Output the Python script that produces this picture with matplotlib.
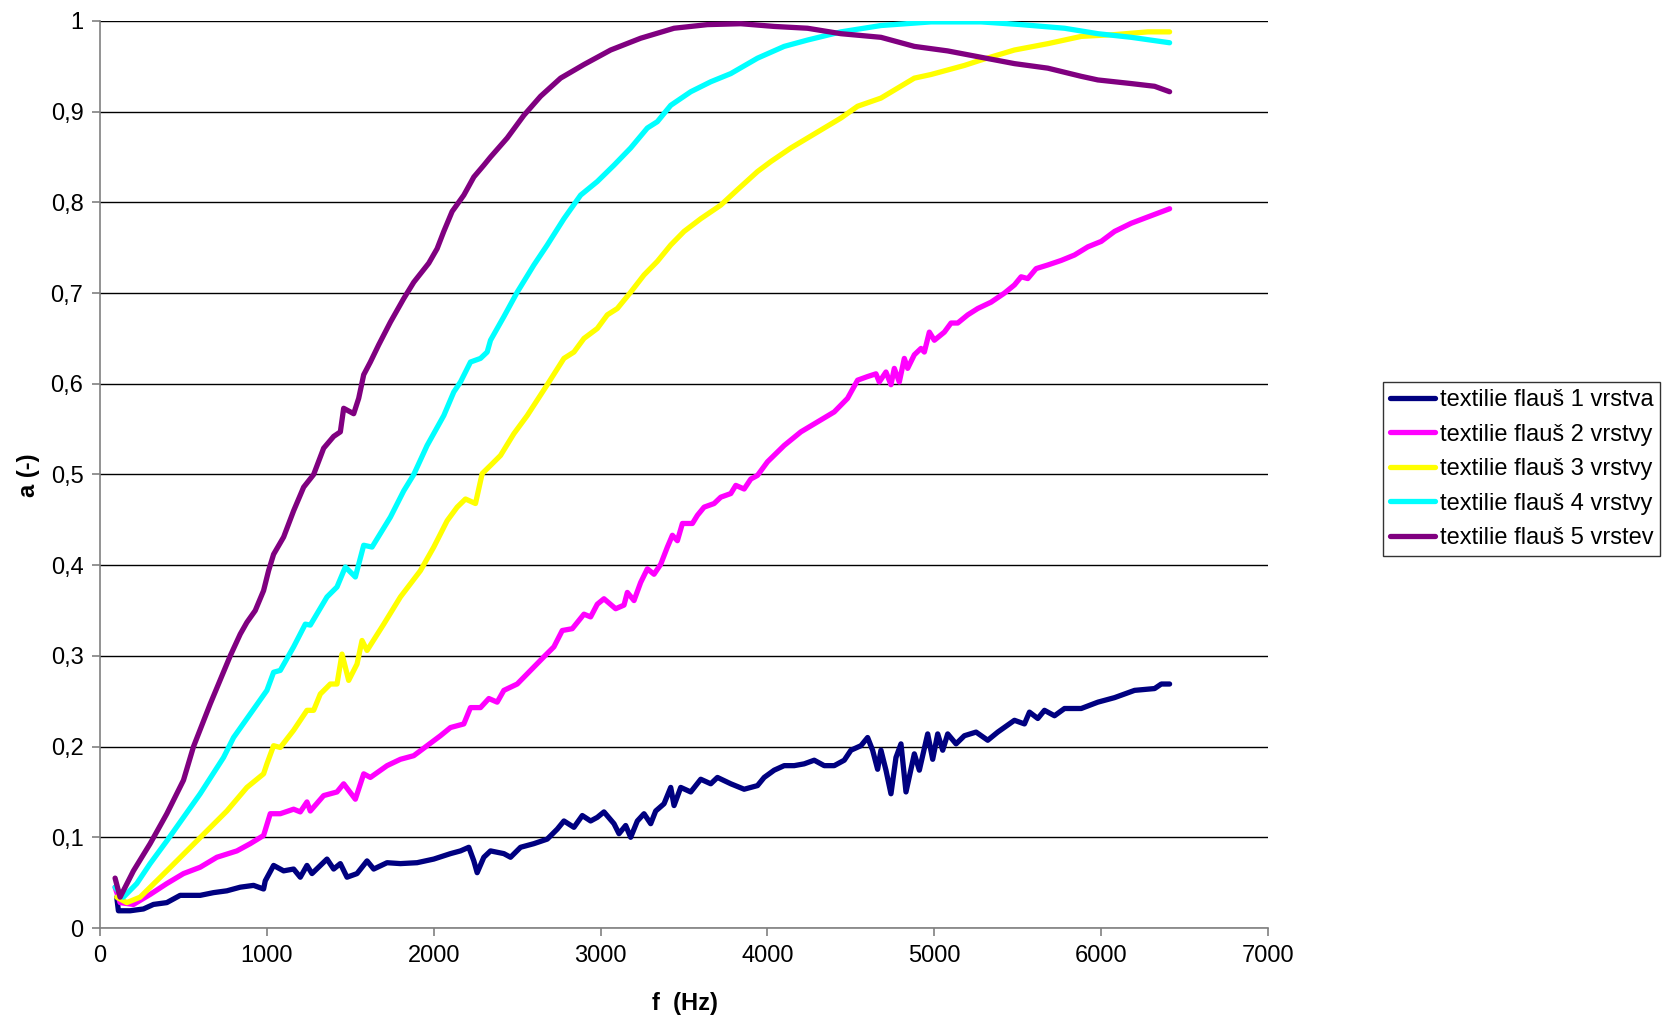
import matplotlib
matplotlib.use("Agg")
import matplotlib.pyplot as plt
from matplotlib.ticker import FuncFormatter

plt.rcParams["font.family"] = ["Liberation Sans", "DejaVu Sans"]

# textilie flauš 1 vrstva
f1 = [100, 110, 180, 260, 320, 400, 480, 540, 600, 680, 760, 840, 920, 980, 990,
      1040, 1100, 1160, 1200, 1240, 1270, 1360, 1400, 1440, 1480, 1540, 1600, 1640,
      1720, 1800, 1900, 2000, 2100, 2160, 2210, 2240, 2260, 2300, 2340, 2420, 2460,
      2520, 2600, 2680, 2740, 2780, 2840, 2890, 2940, 2980, 3020, 3080, 3110, 3150,
      3180, 3220, 3260, 3300, 3330, 3380, 3420, 3440, 3480, 3540, 3600, 3660, 3700,
      3780, 3860, 3940, 3980, 4040, 4100, 4160, 4220, 4280, 4340, 4400, 4460, 4500,
      4560, 4600, 4630, 4660, 4680, 4710, 4740, 4770, 4800, 4830, 4880, 4910, 4960,
      4990, 5020, 5050, 5080, 5130, 5180, 5250, 5320, 5380, 5480, 5540, 5570, 5620,
      5660, 5720, 5780, 5880, 5980, 6080, 6200, 6320, 6360, 6410]
a1 = [0.034, 0.019, 0.019, 0.021, 0.026, 0.028, 0.036, 0.036, 0.036, 0.039, 0.041,
      0.045, 0.047, 0.043, 0.052, 0.069, 0.063, 0.065, 0.056, 0.069, 0.060, 0.076,
      0.065, 0.071, 0.056, 0.060, 0.074, 0.065, 0.072, 0.071, 0.072, 0.076, 0.082,
      0.085, 0.089, 0.074, 0.061, 0.078, 0.085, 0.082, 0.078, 0.089, 0.093, 0.098,
      0.109, 0.118, 0.111, 0.124, 0.118, 0.122, 0.128, 0.115, 0.104, 0.113, 0.100,
      0.118, 0.126, 0.115, 0.129, 0.137, 0.155, 0.135, 0.155, 0.150, 0.164, 0.159,
      0.166, 0.159, 0.153, 0.157, 0.166, 0.174, 0.179, 0.179, 0.181, 0.185, 0.179,
      0.179, 0.185, 0.196, 0.201, 0.210, 0.196, 0.175, 0.196, 0.174, 0.148, 0.188,
      0.203, 0.150, 0.192, 0.174, 0.214, 0.186, 0.214, 0.196, 0.214, 0.203, 0.212,
      0.216, 0.207, 0.216, 0.229, 0.225, 0.238, 0.231, 0.240, 0.234, 0.242, 0.242,
      0.249, 0.254, 0.262, 0.264, 0.269, 0.269]

# textilie flauš 2 vrstvy
f2 = [90, 120, 200, 300, 400, 500, 600, 700, 820, 900, 980, 1020, 1080, 1160, 1200,
      1240, 1260, 1340, 1420, 1460, 1530, 1580, 1620, 1720, 1800, 1880, 1960, 2040,
      2100, 2180, 2220, 2280, 2330, 2380, 2420, 2500, 2580, 2660, 2720, 2770, 2830,
      2900, 2940, 2980, 3020, 3090, 3140, 3160, 3200, 3240, 3280, 3320, 3360, 3400,
      3430, 3460, 3490, 3550, 3580, 3620, 3680, 3720, 3780, 3810, 3860, 3900, 3940,
      4000, 4100, 4200, 4300, 4400, 4480, 4540, 4600, 4650, 4670, 4710, 4740, 4760,
      4790, 4820, 4840, 4880, 4920, 4940, 4970, 5000, 5060, 5100, 5140, 5200, 5260,
      5340, 5420, 5480, 5520, 5560, 5610, 5680, 5760, 5840, 5920, 6000, 6080, 6180,
      6280, 6410]
a2 = [0.045, 0.028, 0.026, 0.037, 0.049, 0.060, 0.067, 0.078, 0.085, 0.093, 0.102,
      0.126, 0.126, 0.131, 0.128, 0.139, 0.129, 0.146, 0.150, 0.159, 0.142, 0.170,
      0.166, 0.179, 0.186, 0.190, 0.201, 0.212, 0.221, 0.225, 0.243, 0.243, 0.253,
      0.249, 0.262, 0.269, 0.284, 0.299, 0.310, 0.328, 0.330, 0.346, 0.343, 0.357,
      0.363, 0.352, 0.356, 0.370, 0.361, 0.381, 0.396, 0.390, 0.401, 0.420, 0.433,
      0.427, 0.446, 0.446, 0.455, 0.464, 0.468, 0.475, 0.479, 0.488, 0.484, 0.495,
      0.499, 0.514, 0.532, 0.547, 0.558, 0.569, 0.584, 0.604, 0.608, 0.611, 0.602,
      0.613, 0.599, 0.617, 0.602, 0.628, 0.617, 0.632, 0.639, 0.635, 0.657, 0.648,
      0.657, 0.667, 0.667, 0.676, 0.683, 0.690, 0.700, 0.709, 0.718, 0.716, 0.727,
      0.731, 0.736, 0.742, 0.751, 0.757, 0.768, 0.777, 0.784, 0.793]

# textilie flauš 3 vrstvy
f3 = [100, 160, 240, 400, 520, 640, 760, 880, 980, 1000, 1040, 1080, 1160, 1240,
      1280, 1320, 1380, 1420, 1450, 1490, 1540, 1570, 1600, 1700, 1800, 1920, 2000,
      2080, 2140, 2190, 2250, 2290, 2340, 2400, 2480, 2560, 2680, 2780, 2840, 2900,
      2980, 3040, 3100, 3180, 3260, 3340, 3420, 3500, 3600, 3720, 3820, 3940, 4020,
      4140, 4240, 4340, 4440, 4540, 4680, 4780, 4880, 4980, 5080, 5180, 5280, 5480,
      5680, 5880, 6080, 6280, 6410]
a3 = [0.034, 0.028, 0.034, 0.063, 0.085, 0.107, 0.129, 0.155, 0.170, 0.181, 0.201,
      0.199, 0.218, 0.240, 0.240, 0.258, 0.269, 0.269, 0.302, 0.273, 0.291, 0.317,
      0.306, 0.335, 0.365, 0.394, 0.420, 0.449, 0.464, 0.473, 0.468, 0.501, 0.510,
      0.521, 0.545, 0.565, 0.599, 0.628, 0.635, 0.650, 0.661, 0.676, 0.683, 0.701,
      0.720, 0.735, 0.753, 0.768, 0.782, 0.797, 0.814, 0.834, 0.845, 0.860, 0.871,
      0.882, 0.893, 0.906, 0.915, 0.926, 0.937, 0.941, 0.946, 0.951, 0.957, 0.968,
      0.975, 0.983, 0.985, 0.988, 0.988]

# textilie flauš 4 vrstvy
f4 = [90, 140, 220, 300, 400, 500, 600, 740, 800, 900, 1000, 1040, 1080, 1160, 1230,
      1260, 1360, 1420, 1470, 1530, 1580, 1630, 1740, 1820, 1880, 1960, 2060, 2120,
      2160, 2220, 2280, 2320, 2340, 2420, 2500, 2600, 2680, 2780, 2880, 2980, 3080,
      3180, 3280, 3340, 3420, 3540, 3660, 3780, 3940, 4100, 4240, 4440, 4680, 4980,
      5280, 5520, 5780, 5980, 6180, 6410]
a4 = [0.045, 0.034, 0.049, 0.071, 0.096, 0.122, 0.148, 0.188, 0.210, 0.236, 0.262,
      0.282, 0.284, 0.310, 0.335, 0.334, 0.365, 0.376, 0.398, 0.387, 0.422, 0.420,
      0.453, 0.482, 0.500, 0.532, 0.565, 0.591, 0.602, 0.624, 0.628, 0.635, 0.648,
      0.674, 0.701, 0.731, 0.753, 0.782, 0.808, 0.823, 0.841, 0.860, 0.882, 0.889,
      0.907, 0.922, 0.933, 0.942, 0.959, 0.972, 0.979, 0.988, 0.995, 0.999, 0.999,
      0.996, 0.992, 0.986, 0.982, 0.976]

# textilie flauš 5 vrstev
f5 = [90, 120, 200, 300, 400, 500, 560, 660, 780, 840, 880, 930, 980, 1010, 1040,
      1100, 1160, 1220, 1280, 1340, 1400, 1440, 1460, 1520, 1550, 1580, 1620, 1670,
      1740, 1820, 1880, 1970, 2020, 2060, 2110, 2180, 2240, 2300, 2340, 2440, 2540,
      2640, 2760, 2900, 3060, 3240, 3440, 3640, 3840, 4040, 4240, 4440, 4680, 4880,
      5080, 5280, 5480, 5680, 5880, 5980, 6180, 6320, 6410]
a5 = [0.055, 0.034, 0.063, 0.093, 0.126, 0.163, 0.200, 0.247, 0.300, 0.324, 0.337,
      0.350, 0.372, 0.394, 0.412, 0.431, 0.460, 0.486, 0.500, 0.529, 0.542, 0.547,
      0.573, 0.567, 0.584, 0.610, 0.624, 0.643, 0.668, 0.694, 0.712, 0.733, 0.749,
      0.768, 0.790, 0.808, 0.828, 0.841, 0.850, 0.871, 0.896, 0.917, 0.937, 0.952,
      0.968, 0.981, 0.992, 0.996, 0.997, 0.994, 0.992, 0.986, 0.982, 0.972, 0.967,
      0.960, 0.953, 0.948, 0.939, 0.935, 0.931, 0.928, 0.922]

labels = ["textilie flauš 1 vrstva", "textilie flauš 2 vrstvy", "textilie flauš 3 vrstvy",
          "textilie flauš 4 vrstvy", "textilie flauš 5 vrstev"]
colors = ["#000080", "#FF00FF", "#FFFF00", "#00FFFF", "#800080"]

fig = plt.figure(figsize=(16.65, 10.19), dpi=100)
ax = fig.add_axes([0.0601, 0.0893, 0.7015, 0.8901])

for fx, ay, lab, col in zip([f1, f2, f3, f4, f5], [a1, a2, a3, a4, a5], labels, colors):
    ax.plot(fx, ay, color=col, lw=3.8, label=lab, solid_joinstyle="round",
            solid_capstyle="round")

ax.set_xlim(0, 7000)
ax.set_ylim(0, 1)
ax.set_xticks(range(0, 7001, 1000))
ax.set_yticks([i / 10 for i in range(11)])
ax.yaxis.set_major_formatter(FuncFormatter(lambda v, p: f"{v:g}".replace(".", ",")))
ax.grid(axis="y", color="black", lw=1.0)
ax.set_axisbelow(True)
for side in ["top", "right"]:
    ax.spines[side].set_visible(False)
for side in ["left", "bottom"]:
    ax.spines[side].set_color("#808080")
    ax.spines[side].set_linewidth(1.2)
ax.tick_params(direction="out", length=6, width=1.2, color="#808080",
               labelsize=17, pad=6)

fig.text(0.0174, 0.534, "a (-)", rotation=90, ha="center", va="center",
         fontsize=17, fontweight="bold")
fig.text(0.4114, 0.0157, "f  (Hz)", ha="center", va="center",
         fontsize=17, fontweight="bold")

leg = fig.legend(loc="upper left", bbox_to_anchor=(0.8306, 0.6251), fontsize=17,
                 frameon=True, fancybox=False, edgecolor="black", borderaxespad=0,
                 handlelength=1.9, handletextpad=0.2, labelspacing=0.53,
                 borderpad=0.3)
leg.get_frame().set_linewidth(1.0)

fig.savefig("out.png", dpi=100)
